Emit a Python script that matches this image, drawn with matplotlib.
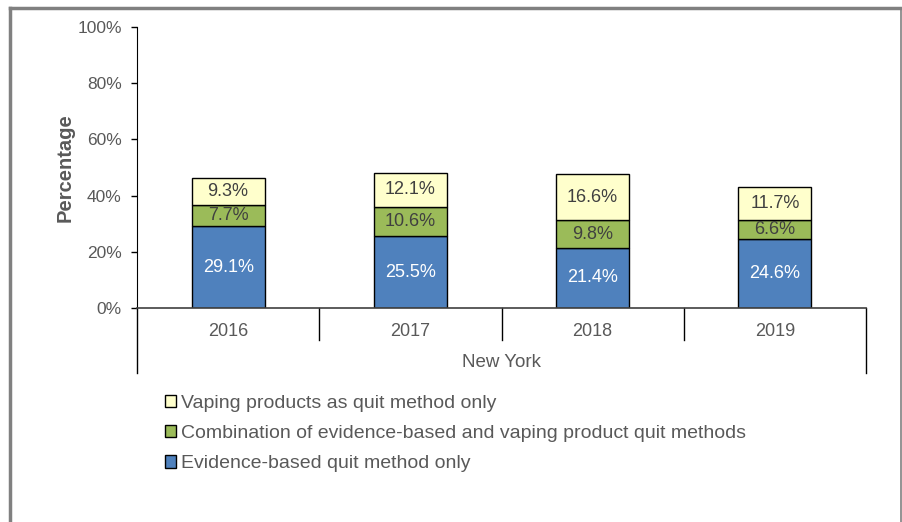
import numpy as np
import matplotlib.pyplot as plt
from matplotlib.lines import Line2D
from matplotlib.patches import Patch

years = ["2016", "2017", "2018", "2019"]
evidence = [29.1, 25.5, 21.4, 24.6]
combo = [7.7, 10.6, 9.8, 6.6]
vaping = [9.3, 12.1, 16.6, 11.7]
yticks = [0, 20, 40, 60, 80, 100]

plt.rcParams['font.family'] = ['Liberation Sans', 'DejaVu Sans']
gray = '#595959'

fig = plt.figure(figsize=(9.02, 5.22), dpi=100)
ax = fig.add_axes([137/902, 1-308/522, (866-137)/902, (308-27)/522])

x = np.arange(len(years))
w = 0.4
ax.bar(x, evidence, w, color='#4F81BD', edgecolor='black', linewidth=1)
ax.bar(x, combo, w, bottom=evidence, color='#9BBB59', edgecolor='black', linewidth=1)
bot3 = np.array(evidence) + np.array(combo)
ax.bar(x, vaping, w, bottom=bot3, color='#FFFFCC', edgecolor='black', linewidth=1)

for i in range(len(years)):
    ax.text(x[i], evidence[i]/2, f"{evidence[i]:.1f}%", ha='center', va='center',
            color='white', fontsize=13)
    ax.text(x[i], evidence[i] + combo[i]/2, f"{combo[i]:.1f}%", ha='center', va='center',
            color='#404040', fontsize=13)
    ax.text(x[i], bot3[i] + vaping[i]/2, f"{vaping[i]:.1f}%", ha='center', va='center',
            color='#404040', fontsize=13)

ax.set_xlim(-0.5, 3.5)
ax.set_ylim(0, 100)
ax.set_yticks(yticks)
ax.set_yticklabels([f"{t}%" for t in yticks])
ax.tick_params(axis='y', direction='out', length=4, width=1, colors='black',
               labelcolor=gray, labelsize=12.5, pad=7)
ax.set_xticks([])
for s in ['top', 'right']:
    ax.spines[s].set_visible(False)
ax.spines['left'].set_color('black')
ax.spines['bottom'].set_color('#404040')
ax.spines['bottom'].set_linewidth(1.2)

ax.set_ylabel("Percentage", fontsize=14.5, fontweight='bold', color=gray, labelpad=2)

# category axis with group line
trans = ax.get_xaxis_transform()
for xs in [0.5, 1.5, 2.5]:
    ax.add_line(Line2D([xs, xs], [0, -0.114], transform=trans, color='black',
                       lw=1, clip_on=False))
for xs in [-0.5, 3.5]:
    ax.add_line(Line2D([xs, xs], [0, -0.231], transform=trans, color='black',
                       lw=1, clip_on=False))
for i, yr in enumerate(years):
    ax.text(x[i], -0.082, yr, transform=trans, ha='center', va='center',
            color=gray, fontsize=13)
ax.text(1.5, -0.195, "New York", transform=trans, ha='center', va='center',
        color=gray, fontsize=13.5)

handles = [Patch(facecolor='#FFFFCC', edgecolor='black'),
           Patch(facecolor='#9BBB59', edgecolor='black'),
           Patch(facecolor='#4F81BD', edgecolor='black')]
labels = ["Vaping products as quit method only",
          "Combination of evidence-based and vaping product quit methods",
          "Evidence-based quit method only"]
leg = fig.legend(handles, labels, loc='upper left', bbox_to_anchor=(157/902, 1-387/522),
                 frameon=False, fontsize=14, handlelength=0.6, handleheight=0.6,
                 handletextpad=0.25, labelspacing=0.68, borderaxespad=0)
for t in leg.get_texts():
    t.set_color(gray)

# outer border
bc = '#808080'
fig.add_artist(Line2D([10/902, 901/902], [1-8/522, 1-8/522], transform=fig.transFigure,
                      color=bc, lw=2.5))
fig.add_artist(Line2D([10/902, 10/902], [1-8/522, 0], transform=fig.transFigure,
                      color=bc, lw=2.5))
fig.add_artist(Line2D([901/902, 901/902], [1-8/522, 0], transform=fig.transFigure,
                      color=bc, lw=1.2))

fig.savefig("out.png", dpi=100)
